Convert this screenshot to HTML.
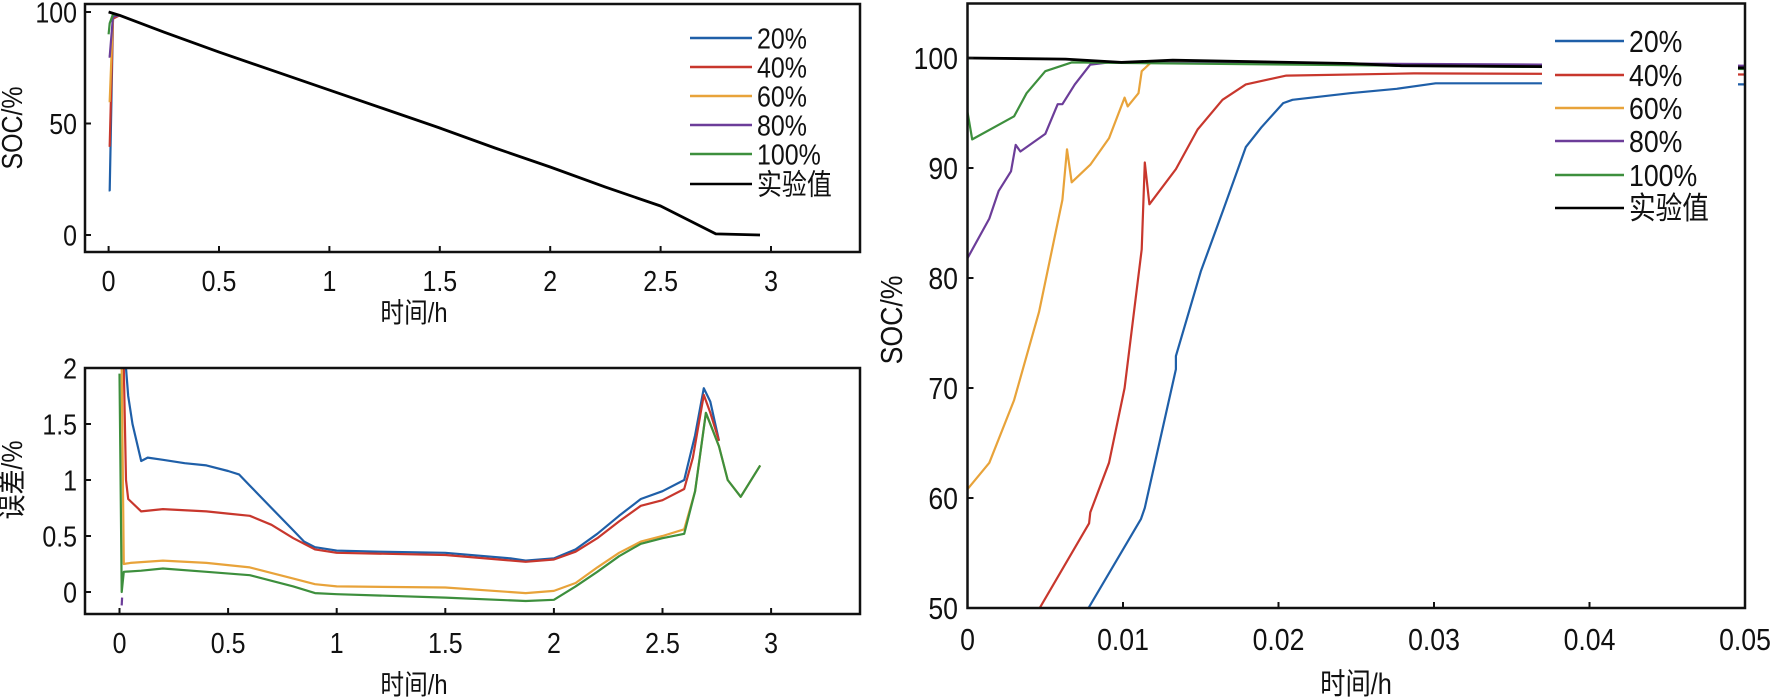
<!DOCTYPE html>
<html><head><meta charset="utf-8"><style>
body{margin:0;background:#fff;width:1772px;height:697px;overflow:hidden}
svg{display:block}
text{font-family:"Liberation Sans","Noto Sans CJK SC",sans-serif;fill:#111}
</style></head><body>
<svg id="c" width="1772" height="697"></svg>
<script>
const colors=["#1f5fa8","#c8372d","#e8a33a","#6c3d99","#3d8f3d","#000000"];
const names=["20%","40%","60%","80%","100%","实验值"];
// Top-left SOC
const tlT=[[0,0.005,0.02,0.05],[0,0.005,0.02,0.05],[0,0.005,0.02,0.05],[0,0.005,0.02,0.05],[0,0.005,0.02,0.05],
 [0,0.05,0.25,0.5,0.75,1,1.25,1.5,1.75,2,2.25,2.5,2.75,2.95]];
const tlV=[[20,20,97,98.5],[40,40,97,98.5],[60,60,98,98.5],[80,80,98,98.5],[90,95,99,98.5],
 [100,98.5,91,82,73.5,65,56.5,48,39,30.5,21.5,13,0.5,0]];
// Bottom-left error
const blT=[
[0.03,0.04,0.06,0.1,0.13,0.2,0.3,0.4,0.5,0.55,0.6,0.7,0.8,0.85,0.9,1,1.2,1.5,1.8,1.87,2,2.1,2.2,2.3,2.4,2.5,2.6,2.65,2.69,2.72,2.76],
[0.02,0.03,0.04,0.1,0.2,0.4,0.5,0.6,0.7,0.8,0.9,1,1.5,1.87,2,2.1,2.2,2.3,2.4,2.5,2.6,2.64,2.69,2.72,2.76],
[0.01,0.02,0.05,0.2,0.4,0.6,0.8,0.9,1,1.5,1.87,2,2.1,2.2,2.3,2.4,2.5,2.6,2.65,2.7,2.73,2.76,2.8,2.86,2.95],
[0.01,0.012],
[0,0.01,0.02,0.1,0.2,0.4,0.6,0.8,0.9,1,1.5,1.87,2,2.1,2.2,2.3,2.4,2.5,2.6,2.65,2.7,2.73,2.76,2.8,2.86,2.95]];
const blV=[
[2,1.75,1.5,1.17,1.2,1.18,1.15,1.13,1.08,1.05,0.95,0.75,0.55,0.45,0.4,0.37,0.36,0.35,0.3,0.28,0.3,0.38,0.52,0.68,0.83,0.9,1.0,1.4,1.82,1.7,1.35],
[2,1.0,0.83,0.72,0.74,0.72,0.7,0.68,0.6,0.48,0.38,0.35,0.33,0.27,0.29,0.36,0.48,0.63,0.77,0.82,0.92,1.2,1.76,1.6,1.35],
[2,0.25,0.26,0.28,0.26,0.22,0.12,0.07,0.05,0.04,-0.01,0.01,0.08,0.22,0.35,0.45,0.5,0.56,0.9,1.6,1.45,1.3,1.0,0.85,1.13],
[-0.12,-0.05],
[1.95,0.0,0.18,0.19,0.21,0.18,0.15,0.05,-0.01,-0.02,-0.05,-0.08,-0.07,0.05,0.18,0.32,0.43,0.48,0.52,0.9,1.6,1.45,1.3,1.0,0.85,1.13]];
// Right zoomed SOC
const rT=[
[0.00778,0.01116,0.0114,0.0134,0.0134,0.015,0.01645,0.0179,0.0189,0.0203,0.0209,0.0246,0.0276,0.0301,0.0368,0.05],
[0.00464,0.00782,0.0079,0.0091,0.0101,0.0112,0.0114,0.0117,0.0134,0.0148,0.0164,0.0179,0.0205,0.0287,0.05],
[0,0.0014,0.003,0.0046,0.0061,0.0064,0.0067,0.0079,0.0091,0.0101,0.0103,0.011,0.0112,0.0118,0.0205,0.05],
[0,0.0014,0.002,0.0028,0.0031,0.0034,0.005,0.0058,0.0061,0.0069,0.0079,0.0091,0.0368,0.05],
[0,0,0.0003,0.003,0.0038,0.005,0.0067,0.05],
[0,0.0063,0.0099,0.0132,0.0246,0.0279,0.05]];
const rV=[
[50,58.1,59.1,71.7,72.9,80.6,86.2,91.9,93.7,95.9,96.2,96.8,97.2,97.7,97.7,97.6],
[50,57.7,58.7,63.2,70,82.6,90.5,86.7,89.9,93.5,96.2,97.6,98.4,98.6,98.5],
[60.8,63.2,68.9,76.9,87.1,91.7,88.7,90.3,92.7,96.4,95.6,96.8,98.8,99.6,99.5,99.2],
[81.8,85.4,87.9,89.7,92.1,91.5,93.1,95.8,95.8,97.6,99.4,99.6,99.4,99.3],
[100,95.1,92.6,94.7,96.8,98.8,99.6,99.0],
[100,99.9,99.6,99.8,99.5,99.3,99.1]];
const tlXTicks=["0","0.5","1","1.5","2","2.5","3"];
const tlYTicks=["0","50","100"];
const blYTicks=["0","0.5","1","1.5","2"];
const rXTicks=["0","0.01","0.02","0.03","0.04","0.05"];
const rYTicks=["50","60","70","80","90","100"];

const NS="http://www.w3.org/2000/svg";
const svg=document.getElementById('c');
function el(tag,attrs,parent){const e=document.createElementNS(NS,tag);for(const k in attrs)e.setAttribute(k,attrs[k]);(parent||svg).appendChild(e);return e;}
function txt(s,x,y,size,anchor,parent,rot){const t=el('text',{x:0,y:0,'font-size':size,'text-anchor':anchor||'middle',transform:'translate('+x+','+y+')'+(rot?' rotate(-90)':'')+' scale(0.86,1)'},parent);t.textContent=s;return t;}

function panel(o){
 const g=el('g',{});
 
 
 const cid='clip'+o.name;
 const cp=el('clipPath',{id:cid},g);el('rect',{x:o.L,y:o.T,width:o.R-o.L,height:o.B-o.T},cp);
 const sx=v=>o.x0px+(v-o.xmin)*o.xk, sy=v=>o.y0px-(v-o.ymin)*o.yk;
 const lg=el('g',{'clip-path':'url(#'+cid+')'},g);
 o.T_.forEach((ts,i)=>{
  const p=el('polyline',{points:ts.map((t,j)=>sx(t).toFixed(1)+','+sy(o.V_[i][j]).toFixed(1)).join(' '),fill:'none',stroke:colors[i],'stroke-width':i==5?2.8:2.2,'stroke-linejoin':'round'},lg);
  
  
 });
 const fr=el('rect',{x:o.L,y:o.T,width:o.R-o.L,height:o.B-o.T,fill:'none',stroke:'#111','stroke-width':2.5},g);
 
 
 o.xt.forEach(s=>{const x=sx(parseFloat(s));el('line',{x1:x,x2:x,y1:o.B,y2:o.B-6,stroke:'#111','stroke-width':2},g);
  const t=txt(s,x,o.xly,o.fs,'middle',g);});
 o.yt.forEach(s=>{const y=sy(parseFloat(s));el('line',{x1:o.L,x2:o.L+6,y1:y,y2:y,stroke:'#111','stroke-width':2},g);
  const t=txt(s,o.ylx,y+o.fs*0.36,o.fs,'end',g);});
 const xt=txt('时间/h',o.xtx,o.xty,o.fs*0.95,'middle',g);
 const yt=txt(o.ytitle,o.ytx,o.yty,o.fs,'middle',g,true);
 
 if(o.leg){
  const lgd=el('g',{},g);
  if(o.leg.bg)el('rect',{x:o.leg.bg[0],y:o.leg.bg[1],width:o.leg.bg[2],height:o.leg.bg[3],fill:'#fff'},lgd);
  o.leg.ys.forEach((y,i)=>{el('line',{x1:o.leg.x1,x2:o.leg.x2,y1:y,y2:y,stroke:colors[i],'stroke-width':2.5},lgd);
   const t=txt(names[i],o.leg.tx,y+o.leg.fs*0.36,o.leg.fs,'start',lgd);});
 }
}
panel({name:'soc-full-panel',L:85,R:860,T:4,B:252,xmin:0,ymin:0,x0px:108.6,xk:220.8,y0px:235,yk:2.23,
 T_:tlT,V_:tlV,xt:tlXTicks,yt:tlYTicks,fs:29,xly:291,ylx:77,xtx:414,xty:322,ytitle:'SOC/%',ytx:22,yty:128,
 leg:{x1:690,x2:752,tx:757,fs:29,ys:[38,67,96,125,154,184]}});
panel({name:'error-panel',L:85,R:860,T:368,B:614,xmin:0,ymin:0,x0px:119.5,xk:217.2,y0px:592,yk:112,
 T_:blT,V_:blV,xt:tlXTicks,yt:blYTicks,fs:29,xly:653,ylx:77,xtx:414,xty:694,ytitle:'误差/%',ytx:22,yty:480});
panel({name:'soc-zoom-panel',L:967.5,R:1745,T:3.5,B:608,xmin:0,ymin:50,x0px:967.5,xk:15550,y0px:608,yk:11,
 T_:rT,V_:rV,xt:rXTicks,yt:rYTicks,fs:31,xly:650,ylx:958,xtx:1356,xty:694,ytitle:'SOC/%',ytx:902,yty:320,
 leg:{bg:[1542,24,196,200],x1:1555,x2:1624,tx:1629,fs:31,ys:[41,75,108,141,175,208]}});
</script>
</body></html>
